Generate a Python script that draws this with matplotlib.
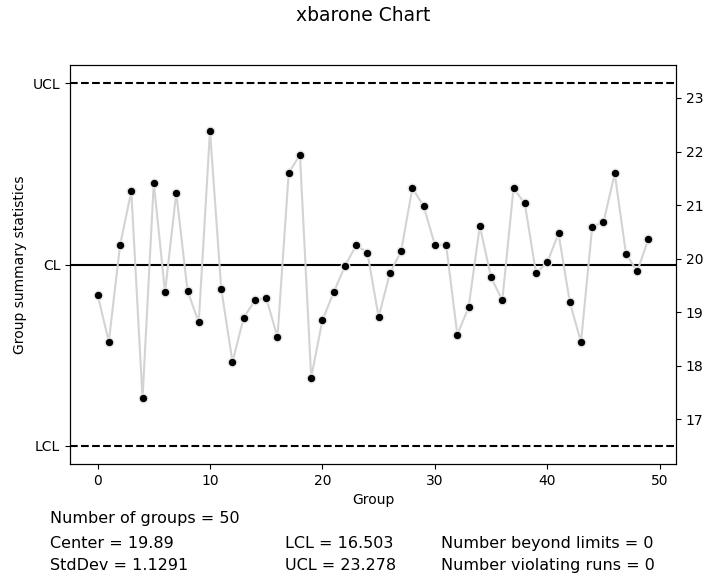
import matplotlib
matplotlib.use("Agg")
import matplotlib.pyplot as plt
import numpy as np

# Group summary statistics (one value per group)
groups = list(range(50))
stats = [19.33, 18.45, 20.25, 21.26, 17.39, 21.42, 19.37, 21.23, 19.40, 18.81,
         22.39, 19.44, 18.07, 18.90, 19.22, 19.27, 18.53, 21.60, 21.94, 17.78,
         18.85, 19.37, 19.86, 20.25, 20.11, 18.91, 19.73, 20.14, 21.32, 20.98,
         20.26, 20.26, 18.58, 19.09, 20.61, 19.65, 19.22, 21.32, 21.03, 19.73,
         19.93, 20.47, 19.19, 18.44, 20.60, 20.68, 21.59, 20.09, 19.76, 20.37]

center = 19.89
std_dev = 1.1291
lcl = 16.503
ucl = 23.278
n_beyond = 0
n_violating = 0
right_ticks = [17, 18, 19, 20, 21, 22, 23]

fig = plt.figure(figsize=(7.03, 5.75), dpi=100)
ax = fig.add_axes([0.0996, 0.193, 0.8620, 0.694])

ax.plot(groups, stats, color="lightgray", linewidth=1.5, zorder=2)
ax.scatter(groups, stats, s=40, color="black", edgecolors="#e8e8e8",
           linewidths=1.0, zorder=3)

ax.axhline(ucl, color="black", linestyle="--", linewidth=1.5, zorder=1)
ax.axhline(center, color="black", linestyle="-", linewidth=1.5, zorder=1)
ax.axhline(lcl, color="black", linestyle="--", linewidth=1.5, zorder=1)

span = ucl - lcl
ax.set_ylim(lcl - 0.05 * span, ucl + 0.05 * span)
ax.set_xlim(-2.45, 51.45)

ax.set_yticks([lcl, center, ucl])
ax.set_yticklabels(["LCL", "CL", "UCL"])
ax.set_xticks([0, 10, 20, 30, 40, 50])
ax.set_xlabel("Group")
ax.set_ylabel("Group summary statistics")

ax2 = ax.twinx()
ax2.set_ylim(ax.get_ylim())
ax2.set_yticks(right_ticks)

fig.suptitle("xbarone Chart", x=0.516, y=0.99, fontsize=13.5)

txt_size = 11.5
fig.text(0.071, 0.098, f"Number of groups = {len(groups)}", fontsize=txt_size, va="center")
fig.text(0.071, 0.055, f"Center = {center}", fontsize=txt_size, va="center")
fig.text(0.071, 0.017, f"StdDev = {std_dev}", fontsize=txt_size, va="center")
fig.text(0.405, 0.055, f"LCL = {lcl}", fontsize=txt_size, va="center")
fig.text(0.405, 0.017, f"UCL = {ucl}", fontsize=txt_size, va="center")
fig.text(0.627, 0.055, f"Number beyond limits = {n_beyond}", fontsize=txt_size, va="center")
fig.text(0.627, 0.017, f"Number violating runs = {n_violating}", fontsize=txt_size, va="center")

fig.savefig("out.png", dpi=100)
